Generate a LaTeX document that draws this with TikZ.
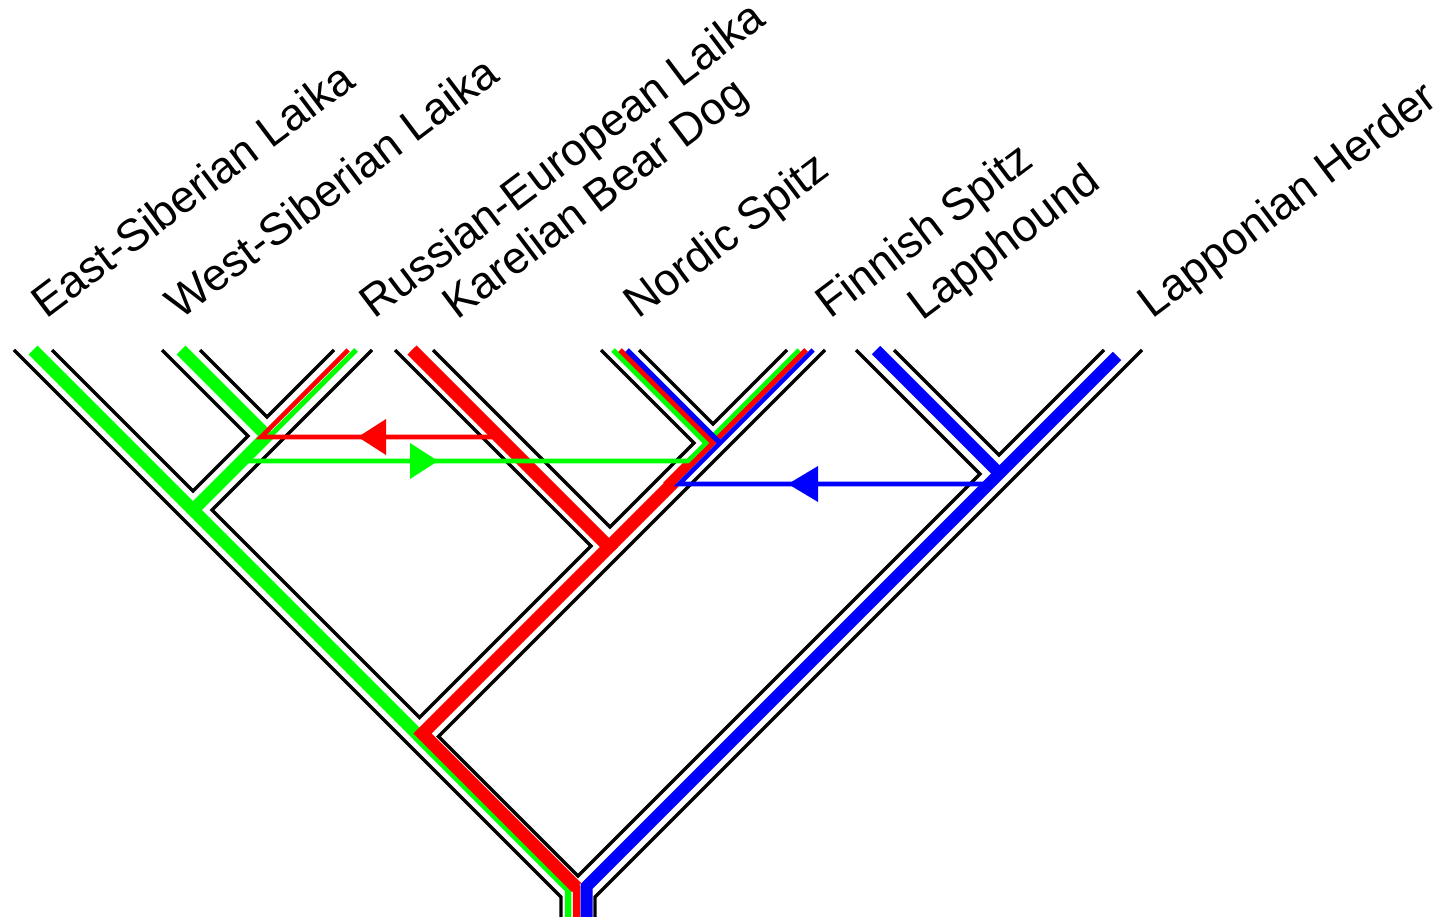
\documentclass[tikz,border=0pt]{standalone}
\usepackage{fontspec}
\newfontfamily\labelfont{Liberation Sans}
\usetikzlibrary{calc}
\definecolor{ggreen}{RGB}{0,255,0}
\definecolor{gred}{RGB}{255,0,0}
\definecolor{gblue}{RGB}{0,0,255}
\begin{document}
\begin{tikzpicture}[x=1pt,y=-1pt,
  tube/.style={line width=3.2pt,black},
  thickg/.style={line width=12.5pt},
  thing/.style={line width=5pt},
  xfer/.style={line width=4.6pt},
  lab/.style={font=\labelfont\fontsize{45}{54}\selectfont, rotate=37, anchor=base west, inner sep=0pt}]
\fill[white] (0,0) rectangle (1449,917);
\path[use as bounding box] (0,0) rectangle (1449,917);
% leaves (tube centres at the top)
\coordinate (tESL) at (33,350);
\coordinate (tWSL) at (181,350);
\coordinate (tREL) at (353,350);
\coordinate (tKBD) at (414,350);
\coordinate (tNS) at (620,350);
\coordinate (tFS) at (806,350);
\coordinate (tLH) at (875,350);
\coordinate (tLpH) at (1123,350);
% internal nodes
\coordinate (n1) at (267,436);
\coordinate (n2) at (193,510);
\coordinate (n3) at (713,443);
\coordinate (n4) at (610,546);
\coordinate (n5) at (419.5,736.5);
\coordinate (n6) at (999,474);
\coordinate (root) at (578,895);
% species tree tube
\draw[tube] ($(tESL)+(-19,0)$) -- ($(root)+(-17,2)$) -- ($(root)+(-17,22)$);
\draw[tube] ($(tLpH)+(19,0)$) -- ($(root)+(17,2)$) -- ($(root)+(17,22)$);
\draw[tube] ($(tESL)+(19,0)$) -- ($(n2)+(0,-19)$) -- ($(n1)+(-19,0)$) -- ($(tWSL)+(-19,0)$);
\draw[tube] ($(tWSL)+(19,0)$) -- ($(n1)+(0,-19)$) -- ($(tREL)+(-19,0)$);
\draw[tube] ($(tREL)+(19,0)$) -- ($(n2)+(19,0)$) -- ($(n5)+(0,-19)$) -- ($(n4)+(-19,0)$) -- ($(tKBD)+(-19,0)$);
\draw[tube] ($(tKBD)+(19,0)$) -- ($(n4)+(0,-19)$) -- ($(n3)+(-19,0)$) -- ($(tNS)+(-19,0)$);
\draw[tube] ($(tNS)+(19,0)$) -- ($(n3)+(0,-19)$) -- ($(tFS)+(-19,0)$);
\draw[tube] ($(tFS)+(19,0)$) -- ($(n5)+(19,0)$) -- ($(root)+(0,-19)$) -- ($(n6)+(-19,0)$) -- ($(tLH)+(-19,0)$);
\draw[tube] ($(tLH)+(19,0)$) -- ($(n6)+(0,-19)$) -- ($(tLpH)+(-19,0)$);
% green gene lineages
\draw[ggreen,thickg] (33,350) -- (569,886);
\draw[ggreen,thickg] (181,350) -- (267,436) -- (193,510);
\draw[ggreen,line width=6.5pt] (415.3,736.5) -- (568,889.2) -- (568,917);
\draw[ggreen,thing] (356,350) -- (268,438);
% red gene lineages
\draw[gred,line width=7.5pt] (412,350) -- (609,547) -- (422.5,733.5) -- (576.5,887.5) -- (576.5,917);
\draw[gred,line width=13pt] (412,350) -- (609,547) -- (422.5,733.5) -- (576.5,887.5);
\draw[gred,line width=13pt] (674,482) -- (610,546);
\draw[gred,line width=9.5pt] (693.5,459) -- (666.5,486);
\draw[gred,xfer] (348,350) -- (261,437) -- (492,437);
\fill[gred] (358,437) -- (386,419) -- (386,455) -- cycle;
% green transfer
\draw[ggreen,xfer] (236,461) -- (688,461) -- (799,350);
\draw[ggreen,thing] (706,443) -- (613,350);
\fill[ggreen] (438,461) -- (410,443) -- (410,479) -- cycle;
% red in Nordic / Finnish Spitz
\draw[gred,thing] (806,350) -- (610,546);
\draw[gred,thing] (713,443) -- (620,350);
% blue gene lineages
\draw[gblue,line width=12pt] (876,350) -- (999.5,473.5);
\draw[gblue,line width=12pt] (1117,356) -- (586.5,886.5) -- (586.5,917);
\draw[gblue,xfer] (989,484) -- (679,484) -- (813,350);
\draw[gblue,thing] (720,443) -- (627,350);
\fill[gblue] (788,484) -- (818,466) -- (818,502) -- cycle;
% labels
\node[lab] (lESL) at (46,320) {East-Siberian Laika};
\node[lab] (lWSL) at (180,321) {West-Siberian Laika};
\node[lab] (lREL) at (374,320) {Russian-European Laika};
\node[lab] (lKBD) at (457,321) {Karelian Bear Dog};
\node[lab] (lNS) at (638,320) {Nordic Spitz};
\node[lab] (lFS) at (830,320) {Finnish Spitz};
\node[lab] (lLH) at (922,322) {Lapphound};
\node[lab] (lLpH) at (1152,320) {Lapponian Herder};
\end{tikzpicture}
\end{document}
